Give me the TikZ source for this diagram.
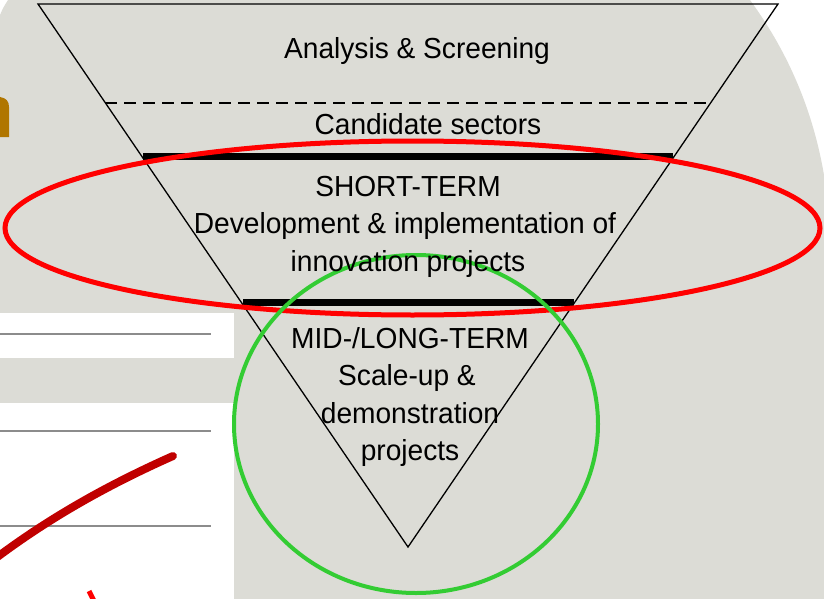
\documentclass[tikz,border=0pt]{standalone}
\usepackage{fontspec}
\setmainfont[FakeStretch=0.97]{Liberation Sans}
\usetikzlibrary{positioning}
\definecolor{slidegray}{RGB}{220,220,214}
\definecolor{rulegray}{RGB}{140,140,140}
\definecolor{ringred}{RGB}{255,0,0}
\definecolor{ringgreen}{RGB}{51,204,51}
\definecolor{tickred}{RGB}{192,0,0}
\definecolor{titlebrown}{RGB}{176,118,0}
\tikzset{
  label/.style={inner sep=0pt, text height=22pt, text depth=7pt,
    font=\fontsize{29}{35}\selectfont},
  funnel/.style={line width=1.3pt},
  cutline/.style={line width=1.3pt, dash pattern=on 12pt off 7pt},
  bar/.style={line width=7pt},
  rule/.style={rulegray, line width=1.5pt}
}
\begin{document}
\begin{tikzpicture}[x=1pt, y=-1pt, node distance=37.5pt]
		\useasboundingbox (0,0) rectangle (824,599);
		% slide background
		\fill[slidegray] (8,0) -- (750,0) .. controls (785,48) and (812,105) .. (824,175)
		  -- (824,599) -- (0,599) -- (0,15) .. controls (3,8) .. (8,0) -- cycle;
		\fill[white] (0,313) rectangle (234,358);
		\fill[white] (0,403) rectangle (234,599);
		\draw[rule] (0,334) -- (211,334);
		\draw[rule] (0,431) -- (211,431);
		\draw[rule] (0,526) -- (211,526);
		\fill[titlebrown] (0,137) -- (9,137) -- (9,107) .. controls (9,101) and (6,98) .. (0,97) -- cycle;
		\draw[tickred, line width=8pt, line cap=round] (-8,561) .. controls (50,517) and (110,484) .. (173,456);
		\draw[ringred, line width=5pt] (89,591) -- (94,601);
		
		% funnel
		\coordinate (tl) at (38,4);
		\coordinate (tr) at (778,4);
		\coordinate (tip) at (408,547);
		\draw[funnel] (tl) -- (tr) -- (tip) -- cycle;
		\coordinate (d1) at (105.4,103);
		\coordinate (d2) at (710.6,103);
		\draw[cutline] (d1) -- (d2);
		\coordinate (b1) at (143,156.5);
		\coordinate (b2) at (673,156.5);
		\draw[bar] (b1) -- (b2);
		\coordinate (b3) at (243,302);
		\coordinate (b4) at (574,302);
		\draw[bar] (b3) -- (b4);
		
		% marks
		\draw[ringred, line width=5pt] (412.5,228) ellipse [x radius=407.5pt, y radius=87pt];
		\draw[ringgreen, line width=4pt] (416,424) ellipse [x radius=182pt, y radius=169pt];
		
		% texts
		\node[label] (scr) at (417,51.5) {Analysis \& Screening};
		\node[label] (cand) at (428,127.5) {Candidate sectors};
		\node[label] (short) at (408,188.5) {SHORT-TERM};
		\node[label] (dev) [below of=short, xshift=-3pt] {Development \& implementation of};
		\node[label] (inno) [below of=short, yshift=-37.5pt] {innovation projects};
		\node[label] (mid) at (410,340.5) {MID-/LONG-TERM};
		\node[label] (scale) [below of=mid, xshift=-3pt] {Scale-up \&};
		\node[label] (demo) [below of=scale, xshift=3pt] {demonstration};
		\node[label] (proj) [below of=demo] {projects};
		\end{tikzpicture}
\end{document}
